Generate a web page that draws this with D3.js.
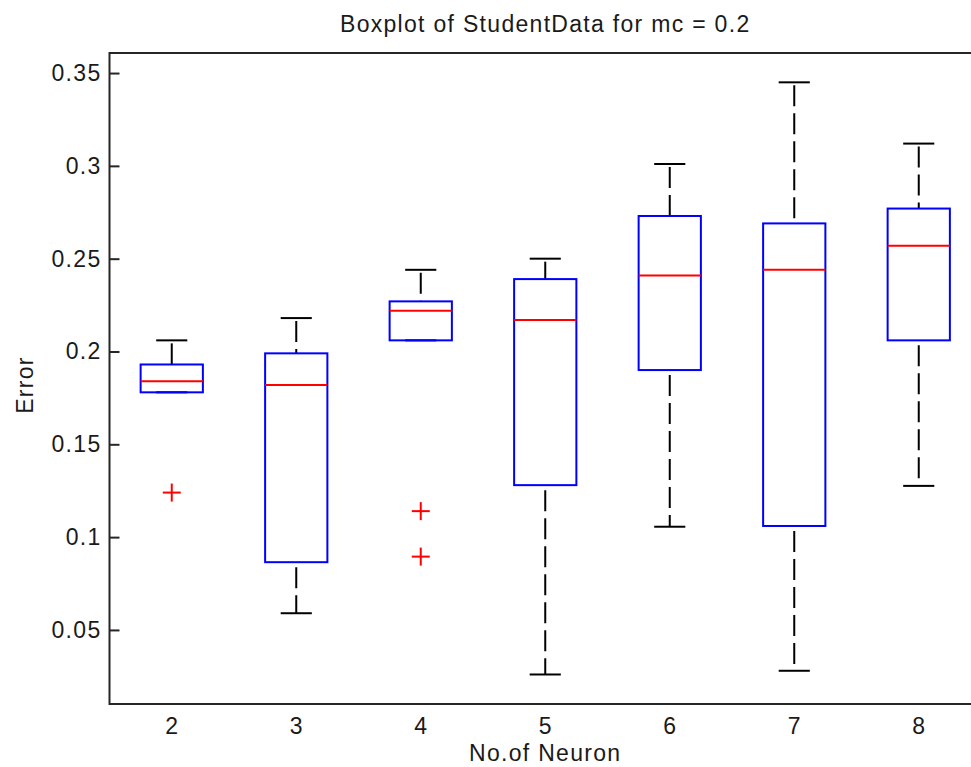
<!DOCTYPE html>
<html>
<head>
<meta charset="utf-8">
<script src="https://cdn.jsdelivr.net/npm/d3@7"></script>
<style>
  html, body { margin: 0; padding: 0; background: #fff; }
  svg { display: block; overflow: hidden; }
  text { font-family: "Liberation Sans", Arial, sans-serif; fill: #1a1a1a; }
</style>
</head>
<body>
<svg id="chart" width="971" height="767"></svg>
<script>
// Error per number of hidden neurons (mc = 0.2)
const categories   = ["2", "3", "4", "5", "6", "7", "8"];
const upperWhisker = [0.206, 0.218, 0.244, 0.250, 0.301, 0.345, 0.312];
const q3           = [0.193, 0.199, 0.227, 0.239, 0.273, 0.269, 0.277];
const medians      = [0.184, 0.182, 0.222, 0.217, 0.241, 0.244, 0.257];
const q1           = [0.178, 0.0865, 0.206, 0.128, 0.190, 0.106, 0.206];
const lowerWhisker = [0.178, 0.059, 0.206, 0.026, 0.1056, 0.028, 0.1276];
const outliers     = [[0.124], [], [0.114, 0.0895], [], [], [], []];
const yTicks       = [0.05, 0.1, 0.15, 0.2, 0.25, 0.3, 0.35];
const yTickLabels  = ["0.05", "0.1", "0.15", "0.2", "0.25", "0.3", "0.35"];

const svg = d3.select("#chart");
const plotLeft = 109.5, plotRight = 981, plotTop = 53, plotBottom = 704;

const x = d3.scaleLinear().domain([0.5, categories.length + 0.5]).range([plotLeft, plotRight]);
const y = d3.scaleLinear().domain([0.0101, 0.3608]).range([plotBottom, plotTop]);

const boxHalf = 0.25, capHalf = 0.125;

const rows = categories.map((c, i) => ({
  pos: i + 1, uw: upperWhisker[i], q3: q3[i], med: medians[i],
  q1: q1[i], lw: lowerWhisker[i], out: outliers[i]
}));

const fontSize = 23, spacing = 1.3;

// Axes
const yAxisL = d3.axisLeft(y).tickValues(yTicks)
  .tickFormat((d, i) => yTickLabels[i]).tickSizeInner(-10).tickSizeOuter(0).tickPadding(8);
const yAxisR = d3.axisRight(y).tickValues(yTicks)
  .tickFormat("").tickSizeInner(-10).tickSizeOuter(0);
const xAxisB = d3.axisBottom(x).tickValues(rows.map(r => r.pos))
  .tickFormat((d, i) => categories[i]).tickSize(0).tickSizeOuter(0).tickPadding(14);

function style(g) {
  g.select(".domain").remove();
  g.selectAll(".tick line").attr("stroke", "#262626").attr("stroke-width", 2);
  g.selectAll(".tick text").attr("font-size", fontSize).style("letter-spacing", spacing + "px")
    .attr("fill", "#1a1a1a").attr("font-family", null);
}

svg.append("g").attr("transform", `translate(${plotLeft},0)`).call(yAxisL).call(style);
svg.append("g").attr("transform", `translate(${plotRight},0)`).call(yAxisR).call(style);
svg.append("g").attr("transform", `translate(0,${plotBottom})`).call(xAxisB).call(style);

// Axes frame
svg.append("rect")
  .attr("x", plotLeft).attr("y", plotTop).attr("width", plotRight - plotLeft).attr("height", plotBottom - plotTop)
  .attr("fill", "none").attr("stroke", "#262626").attr("stroke-width", 2);

const g = svg.append("g");

// Whiskers (dashed) and caps
g.selectAll("line.wu").data(rows).join("line")
  .attr("x1", d => x(d.pos)).attr("x2", d => x(d.pos))
  .attr("y1", d => y(d.uw)).attr("y2", d => y(d.q3))
  .attr("stroke", "#000").attr("stroke-width", 2).attr("stroke-dasharray", "21,7")
  .attr("stroke-dashoffset", -3);
g.selectAll("line.wl").data(rows).join("line")
  .attr("x1", d => x(d.pos)).attr("x2", d => x(d.pos))
  .attr("y1", d => y(d.q1)).attr("y2", d => y(d.lw))
  .attr("stroke", "#000").attr("stroke-width", 2).attr("stroke-dasharray", "21,7")
  .attr("stroke-dashoffset", -5);
g.selectAll("line.cu").data(rows).join("line")
  .attr("x1", d => x(d.pos - capHalf)).attr("x2", d => x(d.pos + capHalf))
  .attr("y1", d => y(d.uw)).attr("y2", d => y(d.uw))
  .attr("stroke", "#000").attr("stroke-width", 2);
g.selectAll("line.cl").data(rows).join("line")
  .attr("x1", d => x(d.pos - capHalf)).attr("x2", d => x(d.pos + capHalf))
  .attr("y1", d => y(d.lw)).attr("y2", d => y(d.lw))
  .attr("stroke", "#000").attr("stroke-width", 2);

// Boxes
g.selectAll("rect.box").data(rows).join("rect")
  .attr("x", d => x(d.pos - boxHalf)).attr("width", d => x(d.pos + boxHalf) - x(d.pos - boxHalf))
  .attr("y", d => y(d.q3)).attr("height", d => y(d.q1) - y(d.q3))
  .attr("fill", "none").attr("stroke", "#0000ff").attr("stroke-width", 2);

// Medians
g.selectAll("line.med").data(rows).join("line")
  .attr("x1", d => x(d.pos - boxHalf)).attr("x2", d => x(d.pos + boxHalf))
  .attr("y1", d => y(d.med)).attr("y2", d => y(d.med))
  .attr("stroke", "#ff0000").attr("stroke-width", 2);

// Outliers as red plus signs
const outPts = rows.flatMap(r => r.out.map(v => ({ pos: r.pos, v })));
const plus = g.selectAll("g.out").data(outPts).join("g")
  .attr("transform", d => `translate(${x(d.pos)},${y(d.v)})`);
plus.append("line").attr("x1", -9).attr("x2", 9).attr("y1", 0).attr("y2", 0)
  .attr("stroke", "#ff0000").attr("stroke-width", 2);
plus.append("line").attr("x1", 0).attr("x2", 0).attr("y1", -9).attr("y2", 9)
  .attr("stroke", "#ff0000").attr("stroke-width", 2);

// Title and axis labels
svg.append("text").attr("x", (plotLeft + plotRight) / 2).attr("y", 32)
  .attr("text-anchor", "middle").attr("font-size", fontSize).style("letter-spacing", spacing + "px")
  .text("Boxplot of StudentData for mc = 0.2");
svg.append("text").attr("x", (plotLeft + plotRight) / 2).attr("y", 761)
  .attr("text-anchor", "middle").attr("font-size", fontSize).style("letter-spacing", spacing + "px")
  .text("No.of Neuron");
svg.append("text").attr("transform", "translate(33,385) rotate(-90)")
  .attr("text-anchor", "middle").attr("font-size", fontSize).style("letter-spacing", spacing + "px")
  .text("Error");
</script>
</body>
</html>
